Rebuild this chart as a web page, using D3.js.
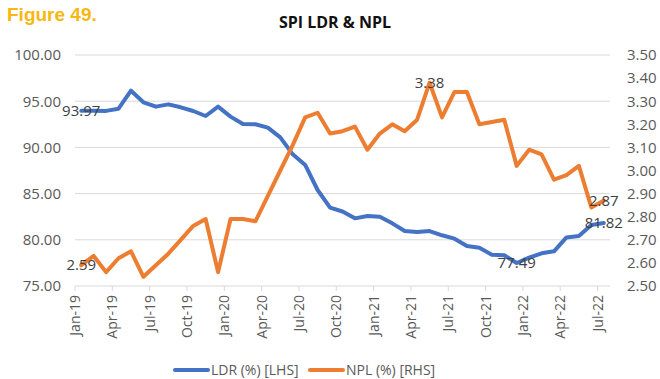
<!DOCTYPE html>
<html>
<head>
<meta charset="utf-8">
<script src="https://cdn.jsdelivr.net/npm/d3@7"></script>
<style>
  html, body { margin: 0; padding: 0; background: #fff; }
  svg text { font-family: "Open Sans", "DejaVu Sans", sans-serif; }
</style>
</head>
<body>
<svg id="chart" width="660" height="379"></svg>
<script>
// Monthly categories, Jan-19 .. Jul-22
const months = [
  "Jan-19","Feb-19","Mar-19","Apr-19","May-19","Jun-19","Jul-19","Aug-19","Sep-19","Oct-19","Nov-19","Dec-19",
  "Jan-20","Feb-20","Mar-20","Apr-20","May-20","Jun-20","Jul-20","Aug-20","Sep-20","Oct-20","Nov-20","Dec-20",
  "Jan-21","Feb-21","Mar-21","Apr-21","May-21","Jun-21","Jul-21","Aug-21","Sep-21","Oct-21","Nov-21","Dec-21",
  "Jan-22","Feb-22","Mar-22","Apr-22","May-22","Jun-22","Jul-22"
];

// Loan-to-deposit ratio (%), left axis
const ldr = [
  93.97, 93.97, 93.95, 94.19, 96.14, 94.88, 94.41, 94.66, 94.34, 93.94, 93.40, 94.41,
  93.33, 92.53, 92.50, 92.14, 91.09, 89.25, 88.10, 85.39, 83.48, 83.06, 82.32, 82.58,
  82.50, 81.78, 80.95, 80.84, 80.95, 80.49, 80.12, 79.33, 79.15, 78.39, 78.32, 77.49,
  78.07, 78.54, 78.75, 80.26, 80.41, 81.60, 81.82
];

// Non-performing loans (%), right axis
const npl = [
  2.59, 2.63, 2.56, 2.62, 2.65, 2.54, 2.59, 2.64, 2.70, 2.76, 2.79, 2.56,
  2.79, 2.79, 2.78, 2.89, 3.00, 3.11, 3.23, 3.25, 3.16, 3.17, 3.19, 3.09,
  3.16, 3.20, 3.17, 3.22, 3.38, 3.23, 3.34, 3.34, 3.20, 3.21, 3.22, 3.02,
  3.09, 3.07, 2.96, 2.98, 3.02, 2.84, 2.87
];

const ldrTicks = [75, 80, 85, 90, 95, 100];
const nplTicks = [2.5, 2.6, 2.7, 2.8, 2.9, 3.0, 3.1, 3.2, 3.3, 3.4, 3.5];

// Points that carry a value label: [index, series]
const ldrLabelled = [0, 35, 42];
const nplLabelled = [0, 28, 42];

const seriesNames = ["LDR (%) [LHS]", "NPL (%) [RHS]"];
const colors = { ldr: "#4472C4", npl: "#ED7D31" };

const svg = d3.select("#chart");
const plot = { left: 75, right: 610, top: 55, bottom: 286 };

const x = d3.scaleBand().domain(d3.range(months.length)).range([plot.left, plot.right]).padding(0);
const cx = i => x(i) + x.bandwidth() / 2;
const yL = d3.scaleLinear().domain([75, 100]).range([plot.bottom, plot.top]);
const yR = d3.scaleLinear().domain([2.5, 3.5]).range([plot.bottom, plot.top]);

// Title block
svg.append("text")
  .attr("x", 7).attr("y", 21)
  .attr("font-size", 19).attr("font-weight", "bold")
  .attr("fill", "#F9B712")
  .style("font-family", "'Liberation Sans', Arial, sans-serif")
  .text("Figure 49.");

svg.append("text")
  .attr("x", 335).attr("y", 28)
  .attr("text-anchor", "middle")
  .attr("font-size", 16).attr("font-weight", "bold")
  .attr("fill", "#111")
  .text("SPI LDR & NPL");

// Horizontal gridlines (from the left axis ticks)
svg.append("g").selectAll("line")
  .data(ldrTicks.slice(1))
  .join("line")
  .attr("x1", plot.left).attr("x2", plot.right)
  .attr("y1", d => yL(d)).attr("y2", d => yL(d))
  .attr("stroke", "#D9D9D9").attr("stroke-width", 1);

// Left axis labels
const axL = svg.append("g")
  .attr("transform", `translate(${plot.left - 14},0)`)
  .call(d3.axisLeft(yL).tickValues(ldrTicks).tickFormat(d3.format(".2f")).tickSize(0).tickPadding(0));
axL.select(".domain").remove();
axL.selectAll("text").attr("font-size", 15).attr("fill", "#595959").style("font-family", null);

// Right axis labels
const axR = svg.append("g")
  .attr("transform", `translate(${plot.right + 17},0)`)
  .call(d3.axisRight(yR).tickValues(nplTicks).tickFormat(d3.format(".2f")).tickSize(0).tickPadding(0));
axR.select(".domain").remove();
axR.selectAll("text").attr("font-size", 15).attr("fill", "#595959").style("font-family", null);

// Bottom axis with quarterly ticks at category boundaries
const quarterly = d3.range(0, months.length, 3);
const axB = svg.append("g").attr("transform", `translate(0,${plot.bottom})`);
axB.append("line")
  .attr("x1", plot.left).attr("x2", plot.right)
  .attr("stroke", "#D9D9D9").attr("stroke-width", 1);
axB.selectAll("line.tick")
  .data(quarterly)
  .join("line")
  .attr("class", "tick")
  .attr("x1", i => x(i)).attr("x2", i => x(i))
  .attr("y1", 0).attr("y2", 5)
  .attr("stroke", "#D9D9D9");
axB.selectAll("text")
  .data(quarterly)
  .join("text")
  .attr("transform", i => `translate(${x(i) + 5},9) rotate(-90)`)
  .attr("text-anchor", "end")
  .attr("font-size", 14)
  .attr("fill", "#595959")
  .text(i => months[i]);

// Lines
const lineL = d3.line().x((d, i) => cx(i)).y(d => yL(d));
const lineR = d3.line().x((d, i) => cx(i)).y(d => yR(d));

svg.append("path").datum(ldr)
  .attr("d", lineL)
  .attr("fill", "none").attr("stroke", colors.ldr)
  .attr("stroke-width", 4).attr("stroke-linejoin", "round").attr("stroke-linecap", "round");

svg.append("path").datum(npl)
  .attr("d", lineR)
  .attr("fill", "none").attr("stroke", colors.npl)
  .attr("stroke-width", 4).attr("stroke-linejoin", "round").attr("stroke-linecap", "round");

// Value labels centred on their points
const labelG = svg.append("g")
  .attr("font-size", 15).attr("fill", "#404040").attr("text-anchor", "middle");
labelG.selectAll("text.l")
  .data(ldrLabelled)
  .join("text").attr("class", "l")
  .attr("x", i => cx(i)).attr("y", i => yL(ldr[i]))
  .attr("dy", "0.35em")
  .text(i => ldr[i].toFixed(2));
labelG.selectAll("text.n")
  .data(nplLabelled)
  .join("text").attr("class", "n")
  .attr("x", i => cx(i)).attr("y", i => yR(npl[i]))
  .attr("dy", "0.35em")
  .text(i => npl[i].toFixed(2));

// Legend
const legend = svg.append("g").attr("transform", "translate(0,370)");
const legendItems = [
  { name: seriesNames[0], color: colors.ldr, x: 175 },
  { name: seriesNames[1], color: colors.npl, x: 310 }
];
legendItems.forEach(it => {
  legend.append("line")
    .attr("x1", it.x).attr("x2", it.x + 33)
    .attr("stroke", it.color).attr("stroke-width", 4).attr("stroke-linecap", "round");
  legend.append("text")
    .attr("x", it.x + 36).attr("dy", "0.35em")
    .attr("font-size", 14).attr("fill", "#595959")
    .text(it.name);
});
</script>
</body>
</html>
